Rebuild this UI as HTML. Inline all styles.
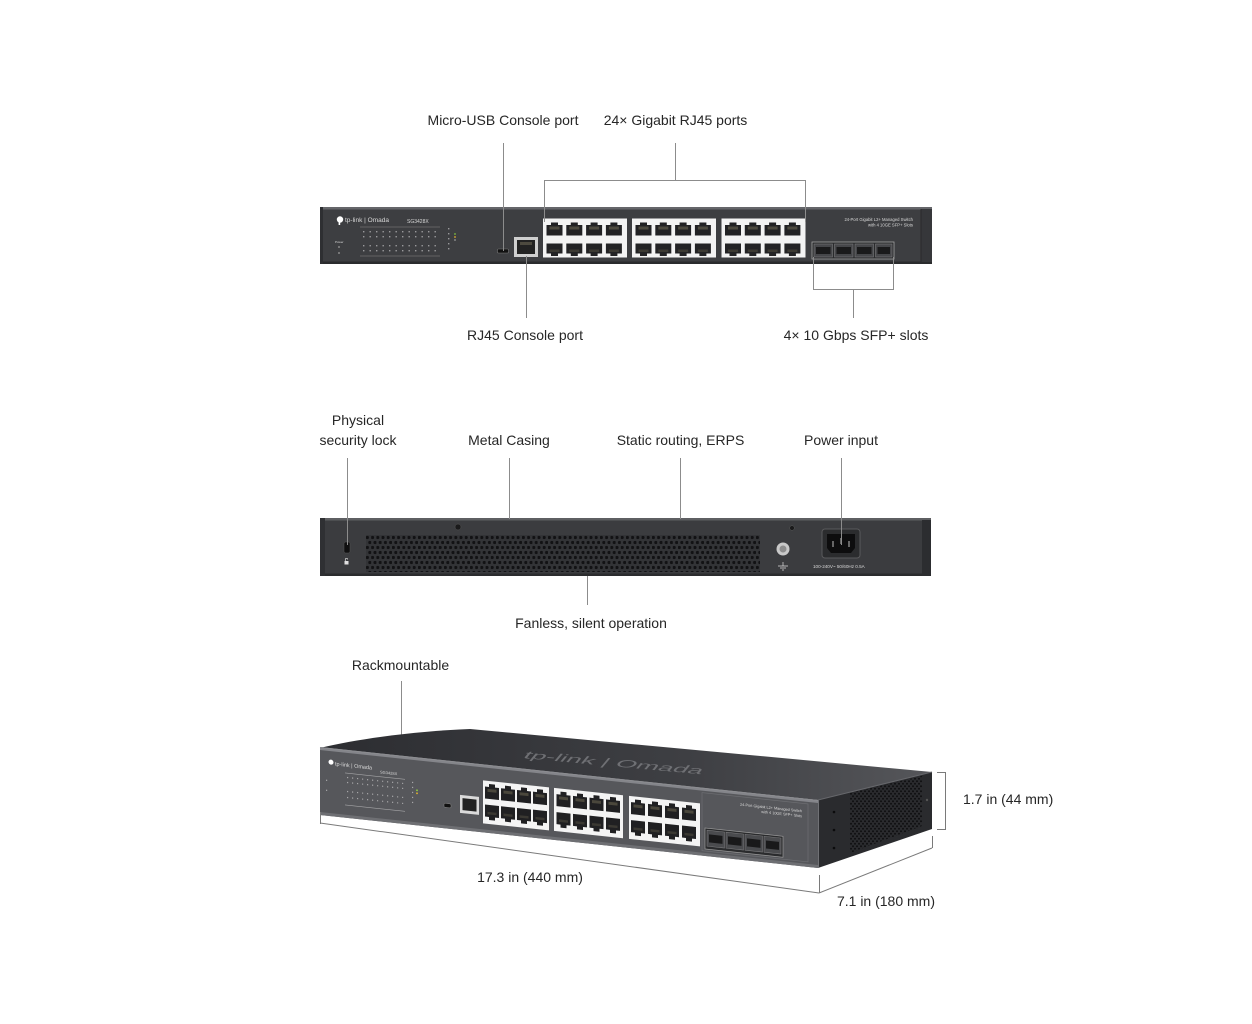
<!DOCTYPE html>
<html><head><meta charset="utf-8"><style>
html,body{margin:0;padding:0;background:#fff;}
svg{display:block}
.t{font-family:"Liberation Sans",sans-serif;font-size:14px;fill:#262626;}
.ln{stroke:#8c8c8c;stroke-width:1;fill:none;}
.dm{stroke:#7a7a7a;stroke-width:1;fill:none;}
.tiny{font-family:"Liberation Sans",sans-serif;fill:#d8d8d8;}
</style></head><body>
<svg width="1252" height="1024" viewBox="0 0 1252 1024" xmlns="http://www.w3.org/2000/svg">
<defs>
  <pattern id="vent" x="366" y="535" width="5.2" height="10" patternUnits="userSpaceOnUse">
    <rect width="5.2" height="10" fill="#333437"/>
    <circle cx="1.3" cy="2.5" r="1.65" fill="#121214"/>
    <circle cx="3.9" cy="7.5" r="1.65" fill="#121214"/>
  </pattern>
  <pattern id="sidevent" width="4" height="5" patternUnits="userSpaceOnUse">
    <rect width="4" height="5" fill="#2a2b2e"/>
    <circle cx="1" cy="1.2" r="1" fill="#0f0f10"/>
    <circle cx="3" cy="3.7" r="1" fill="#0f0f10"/>
  </pattern>
  <linearGradient id="topg" x1="320" y1="0" x2="932" y2="0" gradientUnits="userSpaceOnUse">
    <stop offset="0" stop-color="#2c2d31"/>
    <stop offset="0.6" stop-color="#3e3f43"/>
    <stop offset="1" stop-color="#55565a"/>
  </linearGradient>
  <!-- flat ports -->
  <g id="pT">
    <path d="M4.5 0 H11.5 V2.5 H16 V13 H0 V2.5 H4.5 Z" fill="#222224"/>
    <rect x="3" y="4" width="10" height="3" fill="#4d4a3f"/>
  </g>
  <g id="pB">
    <path d="M0 0 H16 V10 H11.5 V12.5 H4.5 V10 H0 Z" fill="#232325"/>
    <rect x="3" y="6" width="10" height="2.5" fill="#3c3a33"/>
  </g>
  <g id="grp">
    <rect x="0" y="0" width="84" height="39" fill="#f3f3f3"/>
    <use href="#pT" x="3.5" y="4"/><use href="#pT" x="23.3" y="4"/><use href="#pT" x="43.1" y="4"/><use href="#pT" x="62.9" y="4"/>
    <use href="#pB" x="3.5" y="25"/><use href="#pB" x="23.3" y="25"/><use href="#pB" x="43.1" y="25"/><use href="#pB" x="62.9" y="25"/>
  </g>
  <!-- 3D ports -->
  <g id="p3T">
    <path d="M4 0 H10 V3 H14 V15 H0 V3 H4 Z" fill="#202022"/>
    <rect x="2.5" y="5" width="9" height="3" fill="#4a473c"/>
  </g>
  <g id="p3B">
    <path d="M0 0 H14 V12 H10 V15 H4 V12 H0 Z" fill="#202022"/>
    <rect x="2.5" y="7" width="9" height="2.5" fill="#3a3832"/>
  </g>
</defs>

<!-- ============ FRONT VIEW ============ -->
<text class="t" x="503" y="125" text-anchor="middle">Micro-USB Console port</text>
<text class="t" x="675.5" y="125" text-anchor="middle">24× Gigabit RJ45 ports</text>

<rect x="320" y="207" width="612" height="57" fill="#3d3e41"/>
<rect x="320" y="207" width="612" height="2.5" fill="#65666a"/>
<rect x="320" y="261.5" width="612" height="2.5" fill="#2a2b2d"/>
<rect x="320" y="207" width="3" height="57" fill="#2e2f32"/>
<rect x="921" y="209" width="11" height="53" fill="#36373a"/>
<line x1="921" y1="209" x2="921" y2="262" stroke="#2a2a2c"/>

<!-- logo -->
<circle cx="340" cy="219.5" r="3.2" fill="#fff"/>
<rect x="338.6" y="219" width="1.6" height="6" fill="#fff"/>
<text class="tiny" x="345" y="222" font-size="6.5" fill="#fff">tp-link | Omada</text>
<text class="tiny" x="407" y="223" font-size="5">SG3428X</text>
<text class="tiny" x="335" y="243" font-size="3" fill="#aaa">Power</text>
<circle cx="339" cy="247" r="1" fill="#888"/>
<circle cx="339" cy="253" r="1" fill="#888"/>
<!-- LED grid -->
<g fill="#9a9a9c">
  <line x1="360" y1="227" x2="440" y2="227" stroke="#888" stroke-width="0.5"/>
  <line x1="360" y1="256" x2="440" y2="256" stroke="#888" stroke-width="0.5"/>
  <g id="ledrow">
    <rect x="363" y="231" width="1.4" height="1.4"/><rect x="369.5" y="231" width="1.4" height="1.4"/><rect x="376" y="231" width="1.4" height="1.4"/><rect x="382.5" y="231" width="1.4" height="1.4"/><rect x="389" y="231" width="1.4" height="1.4"/><rect x="395.5" y="231" width="1.4" height="1.4"/><rect x="402" y="231" width="1.4" height="1.4"/><rect x="408.5" y="231" width="1.4" height="1.4"/><rect x="415" y="231" width="1.4" height="1.4"/><rect x="421.5" y="231" width="1.4" height="1.4"/><rect x="428" y="231" width="1.4" height="1.4"/><rect x="434.5" y="231" width="1.4" height="1.4"/>
  </g>
  <use href="#ledrow" y="5"/><use href="#ledrow" y="14"/><use href="#ledrow" y="19"/>
  <rect x="448" y="228" width="1.4" height="1.4"/><rect x="448" y="233" width="1.4" height="1.4"/><rect x="448" y="238" width="1.4" height="1.4"/><rect x="448" y="243" width="1.4" height="1.4"/><rect x="448" y="248" width="1.4" height="1.4"/>
</g>
<circle cx="455" cy="234" r="0.9" fill="#7fbf3f"/>
<circle cx="455" cy="237" r="0.9" fill="#e0b030"/>
<circle cx="455" cy="240" r="0.9" fill="#9a9a9a"/>
<!-- micro usb -->
<rect x="497.5" y="249" width="11" height="4" rx="1" fill="#111" stroke="#777" stroke-width="0.6"/>
<!-- console -->
<rect x="514" y="237" width="24" height="20" fill="#cfcfcf"/>
<rect x="517" y="240" width="18" height="14" fill="#222"/>
<rect x="520" y="242" width="12" height="3" fill="#4d4a3f"/>
<!-- RJ45 groups -->
<use href="#grp" x="543" y="218.5"/>
<use href="#grp" x="632" y="218.5"/>
<use href="#grp" x="721.5" y="218.5"/>
<!-- SFP -->
<rect x="812" y="242" width="82" height="17" fill="#2a2b2d" stroke="#a5a5a5" stroke-width="0.8"/>
<g fill="#46474a" stroke="#7b7b7d" stroke-width="0.6">
  <rect x="814" y="244" width="18.5" height="13"/>
  <rect x="834.5" y="244" width="18.5" height="13"/>
  <rect x="855" y="244" width="18.5" height="13"/>
  <rect x="875.5" y="244" width="16.5" height="13"/>
</g>
<g fill="#1a1a1b">
  <rect x="816" y="247" width="14.5" height="7"/><rect x="836.5" y="247" width="14.5" height="7"/><rect x="857" y="247" width="14.5" height="7"/><rect x="877.5" y="247" width="12.5" height="7"/>
</g>
<text class="tiny" x="913" y="221" font-size="4.2" text-anchor="end">24-Port Gigabit L2+ Managed Switch</text>
<text class="tiny" x="913" y="226.5" font-size="4.2" text-anchor="end">with 4 10GE SFP+ Slots</text>

<!-- front callouts -->
<line class="ln" x1="503.5" y1="143" x2="503.5" y2="251"/>
<line class="ln" x1="675.5" y1="143" x2="675.5" y2="180.5"/>
<line class="ln" x1="544" y1="180.5" x2="806" y2="180.5"/>
<line class="ln" x1="544.5" y1="180" x2="544.5" y2="222"/>
<line class="ln" x1="805.5" y1="180" x2="805.5" y2="222"/>
<line class="ln" x1="526.5" y1="256" x2="526.5" y2="318"/>
<line class="ln" x1="813.5" y1="257" x2="813.5" y2="289.5"/>
<line class="ln" x1="893.5" y1="257" x2="893.5" y2="289.5"/>
<line class="ln" x1="813" y1="289.5" x2="894" y2="289.5"/>
<line class="ln" x1="853.5" y1="289" x2="853.5" y2="318"/>

<text class="t" x="525" y="340" text-anchor="middle">RJ45 Console port</text>
<text class="t" x="856" y="340" text-anchor="middle">4× 10 Gbps SFP+ slots</text>

<!-- ============ REAR VIEW ============ -->
<text class="t" x="358" y="425" text-anchor="middle">Physical</text>
<text class="t" x="358" y="445" text-anchor="middle">security lock</text>
<text class="t" x="509" y="445" text-anchor="middle">Metal Casing</text>
<text class="t" x="680.5" y="445" text-anchor="middle">Static routing, ERPS</text>
<text class="t" x="841" y="445" text-anchor="middle">Power input</text>

<rect x="320" y="518" width="611" height="58" fill="#3b3c3f"/>
<rect x="320" y="518" width="611" height="2.5" fill="#5e5f62"/>
<rect x="320" y="573.5" width="611" height="2.5" fill="#2b2c2e"/>
<rect x="320" y="518" width="5" height="58" fill="#2f3033"/>
<rect x="922" y="520" width="9" height="56" fill="#2c2d30"/>
<!-- lock -->
<rect x="344" y="542" width="6" height="11" rx="1.5" fill="#0f0f10" stroke="#555" stroke-width="0.5"/>
<rect x="344.5" y="561" width="4" height="3.5" fill="#e0e0e0"/>
<path d="M345.3 561 v-1.5 a1.2 1.2 0 0 1 2.4 0" stroke="#e0e0e0" stroke-width="0.7" fill="none"/>
<!-- screws -->
<circle cx="458" cy="527" r="3" fill="#1a1a1b" stroke="#555" stroke-width="0.5"/>
<circle cx="792" cy="528" r="2.3" fill="#1a1a1b" stroke="#555" stroke-width="0.5"/>
<!-- vent -->
<rect x="366" y="535" width="394" height="37" fill="url(#vent)"/>
<!-- ground -->
<circle cx="783" cy="549" r="6.5" fill="#c9c9c9"/>
<circle cx="783" cy="549" r="3.5" fill="#8d8d8d"/>
<path d="M778 566 h10 M780 568 h6 M782 570 h2 M783 562 v4" stroke="#ddd" stroke-width="0.7"/>
<!-- power socket -->
<rect x="822" y="529" width="38" height="29" rx="3" fill="#2b2c2e" stroke="#5a5a5c" stroke-width="1"/>
<path d="M827 534 h28 v14 l-4 5 h-20 l-4 -5 z" fill="#0d0d0e"/>
<rect x="832" y="541" width="2" height="6" fill="#666"/>
<rect x="840" y="538" width="2" height="6" fill="#666"/>
<rect x="848" y="541" width="2" height="6" fill="#666"/>
<text class="tiny" x="813" y="568" font-size="4.6">100-240V~ 50/60Hz 0.5A</text>

<!-- rear callouts -->
<line class="ln" x1="347.5" y1="458" x2="347.5" y2="545"/>
<line class="ln" x1="509.5" y1="458" x2="509.5" y2="519"/>
<line class="ln" x1="680.5" y1="458" x2="680.5" y2="519"/>
<line class="ln" x1="841.5" y1="458" x2="841.5" y2="545"/>
<line class="ln" x1="587.5" y1="576" x2="587.5" y2="605"/>
<text class="t" x="591" y="628" text-anchor="middle">Fanless, silent operation</text>

<!-- ============ 3D VIEW ============ -->
<text class="t" x="400.5" y="670" text-anchor="middle">Rackmountable</text>
<line class="ln" x1="401.5" y1="681" x2="401.5" y2="739"/>

<!-- top surface -->
<path d="M320 748 C 360 738 420 731 470 729 L 932 772 L 818 800 Z" fill="url(#topg)"/>
<text x="0" y="0" font-family="Liberation Sans, sans-serif" font-size="24" fill="#6f7074" transform="matrix(1.1 0.1 -0.35 0.42 522 758)">tp-link | Omada</text>
<!-- right side -->
<polygon points="818,800 932,772 932,829 818,868" fill="#2a2b2e"/>
<polygon points="850,793 922,776 922,826 850,853" fill="url(#sidevent)"/>
<circle cx="834" cy="812" r="1.3" fill="#0b0b0c"/><circle cx="834" cy="830" r="1.3" fill="#0b0b0c"/><circle cx="834" cy="848" r="1.3" fill="#0b0b0c"/>
<circle cx="927" cy="800" r="1.2" fill="#555"/>
<line x1="818.5" y1="800" x2="818.5" y2="868" stroke="#707175" stroke-width="1"/>
<line x1="818" y1="800" x2="932" y2="772" stroke="#66676b" stroke-width="1"/>

<!-- front face (sheared) -->
<g transform="matrix(1 0.1064 0 1 320 747)">
  <rect x="0" y="0" width="498" height="68" fill="#56575b"/>
  <rect x="0" y="0" width="498" height="3" fill="#84858a"/>
  <rect x="0" y="65" width="498" height="3" fill="#6e6f73"/>
  <rect x="382" y="5" width="106" height="58" fill="none" stroke="#6d6e72" stroke-width="0.7"/>
  <circle cx="11" cy="14" r="2.5" fill="#fff"/>
  <text class="tiny" x="15" y="17" font-size="5.5" fill="#f0f0f0">tp-link | Omada</text>
  <text class="tiny" x="60" y="20" font-size="4">SG3428X</text>
  <g fill="#a6a6a8">
    <rect x="25" y="23" width="60" height="0.6"/>
    <rect x="25" y="55" width="60" height="0.6"/>
    <g id="lr3">
      <rect x="27" y="27" width="1.2" height="1.2"/><rect x="32" y="27" width="1.2" height="1.2"/><rect x="37" y="27" width="1.2" height="1.2"/><rect x="42" y="27" width="1.2" height="1.2"/><rect x="47" y="27" width="1.2" height="1.2"/><rect x="52" y="27" width="1.2" height="1.2"/><rect x="57" y="27" width="1.2" height="1.2"/><rect x="62" y="27" width="1.2" height="1.2"/><rect x="67" y="27" width="1.2" height="1.2"/><rect x="72" y="27" width="1.2" height="1.2"/><rect x="77" y="27" width="1.2" height="1.2"/><rect x="82" y="27" width="1.2" height="1.2"/>
    </g>
    <use href="#lr3" y="5"/><use href="#lr3" y="14"/><use href="#lr3" y="20"/>
    <rect x="92" y="25" width="1.2" height="1.2"/><rect x="92" y="30" width="1.2" height="1.2"/><rect x="92" y="35" width="1.2" height="1.2"/><rect x="92" y="40" width="1.2" height="1.2"/><rect x="92" y="45" width="1.2" height="1.2"/>
    <rect x="6" y="32" width="1.2" height="1.2"/><rect x="6" y="42" width="1.2" height="1.2"/>
  </g>
  <circle cx="97" cy="33" r="0.9" fill="#8fcf3f"/>
  <circle cx="97" cy="36" r="0.9" fill="#e0b030"/>
  <!-- micro usb -->
  <rect x="124" y="43" width="7" height="4" rx="1" fill="#111" stroke="#888" stroke-width="0.5"/>
  <!-- console -->
  <rect x="140" y="33" width="19" height="18" fill="#dadada"/>
  <rect x="142.5" y="36" width="14" height="12" fill="#222"/>
  <!-- groups -->
  <rect x="163" y="16" width="66" height="43" fill="#f4f4f4"/>
  <use href="#p3T" x="165" y="19"/><use href="#p3T" x="181" y="19"/><use href="#p3T" x="197" y="19"/><use href="#p3T" x="213" y="19"/>
  <use href="#p3B" x="165" y="40"/><use href="#p3B" x="181" y="40"/><use href="#p3B" x="197" y="40"/><use href="#p3B" x="213" y="40"/>
  <rect x="234" y="16" width="69" height="43" fill="#f4f4f4"/>
  <use href="#p3T" x="236.5" y="19"/><use href="#p3T" x="253" y="19"/><use href="#p3T" x="269.5" y="19"/><use href="#p3T" x="286" y="19"/>
  <use href="#p3B" x="236.5" y="40"/><use href="#p3B" x="253" y="40"/><use href="#p3B" x="269.5" y="40"/><use href="#p3B" x="286" y="40"/>
  <rect x="309" y="16" width="71" height="43" fill="#f4f4f4"/>
  <use href="#p3T" x="311" y="19"/><use href="#p3T" x="328" y="19"/><use href="#p3T" x="345" y="19"/><use href="#p3T" x="362" y="19"/>
  <use href="#p3B" x="311" y="40"/><use href="#p3B" x="328" y="40"/><use href="#p3B" x="345" y="40"/><use href="#p3B" x="362" y="40"/>
  <!-- SFP -->
  <rect x="385" y="40" width="78" height="21" fill="#2a2b2d" stroke="#9a9a9a" stroke-width="0.7"/>
  <g fill="#4a4b4e" stroke="#808082" stroke-width="0.5">
    <rect x="387" y="42" width="17.5" height="16"/><rect x="406" y="42" width="17.5" height="16"/><rect x="425" y="42" width="17.5" height="16"/><rect x="444" y="42" width="17" height="16"/>
  </g>
  <g fill="#19191a">
    <rect x="389" y="46" width="13.5" height="8"/><rect x="408" y="46" width="13.5" height="8"/><rect x="427" y="46" width="13.5" height="8"/><rect x="446" y="46" width="13" height="8"/>
  </g>
  <text class="tiny" x="482" y="14" font-size="3.8" text-anchor="end">24-Port Gigabit L2+ Managed Switch</text>
  <text class="tiny" x="482" y="19" font-size="3.8" text-anchor="end">with 4 10GE SFP+ Slots</text>
</g>
<line x1="320" y1="747.5" x2="818" y2="800.5" stroke="#8c8d91" stroke-width="1"/>

<!-- dimension lines -->
<line class="dm" x1="320.5" y1="812" x2="320.5" y2="824"/>
<line class="dm" x1="320" y1="823" x2="819" y2="893"/>
<line class="dm" x1="819.5" y1="875" x2="819.5" y2="893"/>
<line class="dm" x1="819" y1="893" x2="932" y2="848"/>
<line class="dm" x1="932.5" y1="836" x2="932.5" y2="848"/>
<path class="dm" d="M937 772.5 H945.5 V829.5 H937"/>

<text class="t" x="963" y="804">1.7 in (44 mm)</text>
<text class="t" x="530" y="882" text-anchor="middle">17.3 in (440 mm)</text>
<text class="t" x="886" y="906" text-anchor="middle">7.1 in (180 mm)</text>
</svg>
</body></html>
